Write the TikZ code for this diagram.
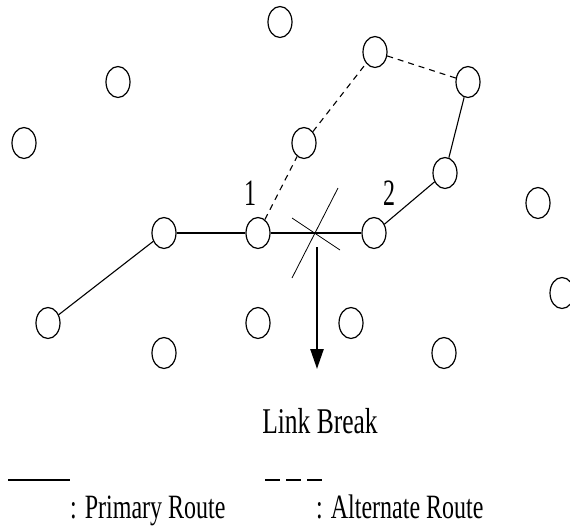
\documentclass[tikz,border=0pt]{standalone}
\usepackage{fontspec}
\setmainfont{Liberation Serif}
\usetikzlibrary{shapes.geometric,arrows.meta}
\tikzset{
  host/.style={ellipse,draw,line width=1.2pt,minimum width=24pt,minimum height=31pt,inner sep=0pt},
  primary/.style={line width=1.1pt},
  alternate/.style={line width=1.1pt,dash pattern=on 6pt off 5pt},
  crossline/.style={line width=0.8pt},
  lbl/.style={inner sep=0pt,anchor=base},
}
\newcommand{\tallt}[3]{\scalebox{1}[#2]{\fontsize{#1}{28}\selectfont #3}}
\begin{document}
\begin{tikzpicture}[x=1pt,y=-1pt]
\useasboundingbox (0,0) rectangle (570,525);
\clip (0,0) rectangle (570,525);
% hosts
\node[host] (n1) at (280,22) {};
\node[host] (nA) at (375,52) {};
\node[host] (nB) at (468,82) {};
\node[host] (nC) at (304,143) {};
\node[host] (nD) at (445,173) {};
\node[host] (nE) at (118,82) {};
\node[host] (nF) at (24,143) {};
\node[host] (nG) at (164,233) {};
\node[host] (nH) at (48,323) {};
\node[host] (nI) at (164,353) {};
\node[host] (one) at (258,233) {};
\node[host] (two) at (374,233) {};
\node[host] (nJ) at (258,323) {};
\node[host] (nK) at (351,323) {};
\node[host] (nL) at (538,203) {};
\node[host] (nM) at (562,293) {};
\node[host] (nN) at (444,353) {};
% primary route
\draw[primary] (nH) -- (nG);
\draw[primary] (nG) -- (one);
\draw[primary] (one) -- (two);
\draw[primary] (two) -- (nD);
\draw[primary] (nD) -- (nB);
% alternate route
\draw[alternate] (one) -- (nC);
\draw[alternate] (nC) -- (nA);
\draw[alternate] (nA) -- (nB);
% link break cross
\coordinate (brk) at (317,233);
\coordinate (c1a) at (338,188);
\coordinate (c1b) at (292,278);
\coordinate (c2a) at (292,218);
\coordinate (c2b) at (340,250);
\draw[crossline] (c1a) -- (c1b);
\draw[crossline] (c2a) -- (c2b);
\coordinate (arrs) at (317,247);
\coordinate (arre) at (317,369);
\draw[line width=2.5pt,-{Triangle[width=13pt,length=20pt]}] (arrs) -- (arre);
% labels
\node[lbl] (l1) at (250,205) {\tallt{24}{1.55}{1}};
\node[lbl] (l2) at (389,205) {\tallt{24}{1.55}{2}};
\node[lbl] (lb) at (320,433) {\tallt{25.5}{1.42}{Link Break}};
% legend
\coordinate (ls1) at (8,480);
\coordinate (ls2) at (70,480);
\draw[line width=2pt] (ls1) -- (ls2);
\coordinate (ld1) at (265,480);
\coordinate (ld2) at (322,480);
\draw[line width=2pt,dash pattern=on 15pt off 6pt] (ld1) -- (ld2);
\node[lbl,anchor=base west] (lp) at (70,518) {\tallt{24}{1.42}{: Primary Route}};
\node[lbl,anchor=base west] (la) at (316,518) {\tallt{24}{1.42}{: Alternate Route}};
\end{tikzpicture}
\end{document}
